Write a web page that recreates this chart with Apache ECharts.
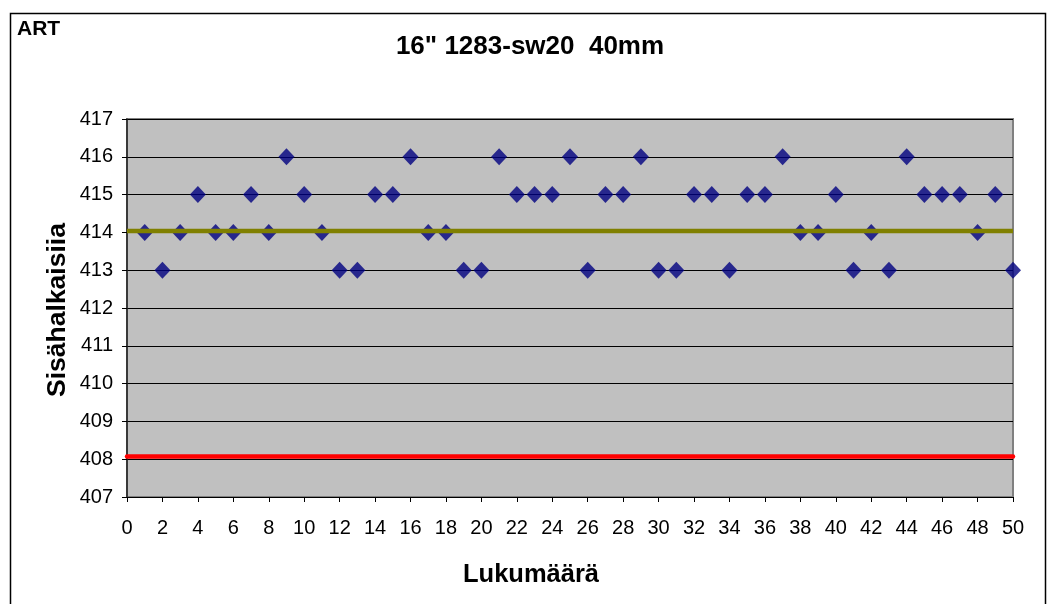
<!DOCTYPE html>
<html>
<head>
<meta charset="utf-8">
<script src="https://cdn.jsdelivr.net/npm/echarts@6/dist/echarts.min.js"></script>
<style>html,body{margin:0;padding:0;background:#fff}#c{width:1050px;height:604px}</style>
</head>
<body>
<div id="c"></div>
<script>
const titleText = '16" 1283-sw20  40mm';
const cornerText = 'ART';
const xTitle = 'Lukumäärä';
const yTitle = 'Sisähalkaisiia';
const xIndex = [1,2,3,4,5,6,7,8,9,10,11,12,13,14,15,16,17,18,19,20,21,22,23,24,25,26,27,28,29,30,31,32,33,34,35,36,37,38,39,40,41,42,43,44,45,46,47,48,49,50];
const measured = [414,413,414,415,414,414,415,414,416,415,414,413,413,415,415,416,414,414,413,413,416,415,415,415,416,413,415,415,416,413,413,415,415,413,415,415,416,414,414,415,413,414,413,416,415,415,415,414,415,413];
const meanLine = [[0,414.04],[50,414.04]];
const limitLine = [[0,408.07],[50,408.07]];
const yMin = 407, yMax = 417, yStep = 1;
const xMin = 0, xMax = 50, xStep = 2;

const chart = echarts.init(document.getElementById('c'), null, {renderer:'canvas'});
const font = 'Liberation Sans, Arial, Helvetica, sans-serif';
chart.setOption({
  animation:false,
  backgroundColor:'#ffffff',
  grid:{left:127, right:37, top:119, bottom:107, show:true, backgroundColor:'#c0c0c0', borderColor:'#808080', borderWidth:2},
  xAxis:{type:'value', min:xMin, max:xMax, interval:xStep,
    axisLine:{show:true, onZero:false, lineStyle:{color:'#000', width:1}},
    axisTick:{show:true, inside:false, length:5, lineStyle:{color:'#000'}},
    axisLabel:{color:'#000', fontSize:20, fontFamily:font, margin:21},
    splitLine:{show:false}},
  yAxis:{type:'value', min:yMin, max:yMax, interval:yStep,
    axisLine:{show:true, lineStyle:{color:'#222', width:1.5}},
    axisTick:{show:true, inside:false, length:5, lineStyle:{color:'#000'}},
    axisLabel:{color:'#000', fontSize:20, fontFamily:font, margin:14},
    splitLine:{show:true, lineStyle:{color:'#000', width:1}}},
  series:[
    {type:'scatter', data:xIndex.map((x,i)=>[x,measured[i]]), symbol:'diamond', symbolSize:[16,17],
      itemStyle:{color:'#000080'}, z:2},
    {type:'line', data:meanLine, symbol:'none', lineStyle:{color:'#808000', width:4.5}, z:3},
    {type:'line', data:limitLine, symbol:'none', lineStyle:{color:'#ff0000', width:4.5, cap:'round'}, z:3}
  ],
  graphic:[
    {type:'rect', shape:{x:10.5, y:13.5, width:1035, height:620}, style:{fill:'none', stroke:'#000', lineWidth:1.5}, z:-1},
    {type:'text', left:17, top:19, style:{text:cornerText, font:'bold 21px '+font, fill:'#000'}},
    {type:'text', x:530, y:47, style:{text:titleText, font:'bold 26px '+font, fill:'#000', textAlign:'center', textVerticalAlign:'middle'}},
    {type:'text', x:531, y:575, style:{text:xTitle, font:'bold 25.5px '+font, fill:'#000', textAlign:'center', textVerticalAlign:'middle'}},
    {type:'text', x:58, y:310, rotation:Math.PI/2, style:{text:yTitle, font:'bold 26.5px '+font, fill:'#000', textAlign:'center', textVerticalAlign:'middle'}}
  ]
});
</script>
</body>
</html>
